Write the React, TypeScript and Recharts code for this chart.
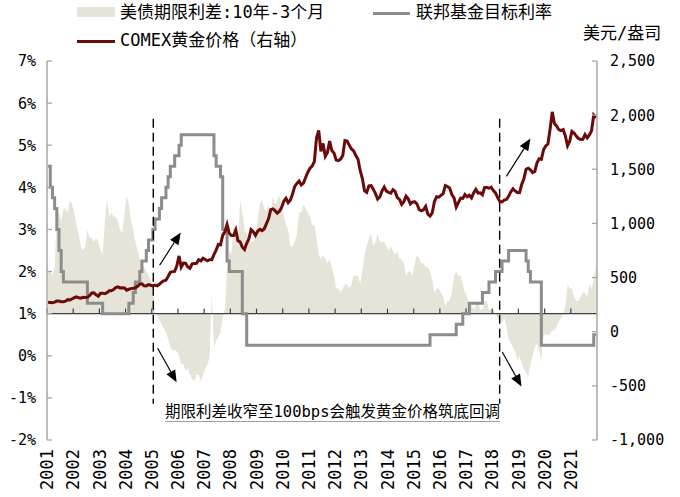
import React from 'react';
import { ComposedChart, Area, Line, XAxis, YAxis, ReferenceLine } from 'recharts';

// x = months since May 2001 (monthly observations, plotted mid-month)
const yearLabels = ['2001','2002','2003','2004','2005','2006','2007','2008','2009','2010','2011','2012','2013','2014','2015','2016','2017','2018','2019','2020','2021'];
const yearTicks = [0,12,24,36,48,60,72,84,96,108,120,132,144,156,168,180,192,204,216,228,240];
const leftTicks = [-2,-1,0,1,2,3,4,5,6,7];
const rightTicks = [-1000,-500,0,500,1000,1500,2000,2500];

// 美债期限利差:10年-3个月 (%)
const spread = [
  2.0, 2.0, 1.9, 2.1, 3.3, 3.4, 3.2, 3.5,
  3.5, 3.4, 3.7, 3.6, 3.4, 3.1, 2.9, 2.6, 2.5, 2.6, 3.0, 2.8,
  2.8, 2.7, 2.8, 2.7, 2.5, 2.4, 3.2, 3.7, 3.3, 3.4, 3.3, 3.3,
  3.2, 3.0, 2.9, 3.4, 3.8, 3.6, 3.2, 3.0, 2.7, 2.5, 2.3, 2.1,
  2.1, 2.0, 1.9, 1.8, 1.6, 1.05, 0.95, 0.85, 0.75, 0.65, 0.55, 0.4,
  0.2, 0.12, 0.15, 0.1, 0.0, -0.2, -0.2, -0.35, -0.3, -0.45, -0.55, -0.6,
  -0.45, -0.45, -0.6, -0.45, -0.3, -0.2, -0.05, 1.5, 0.2, 0.35, 0.45, 0.55,
  0.9, 1.1, 2.0, 2.5, 2.4, 3.2, 2.9, 2.6, 3.7, 3.4, 3.0, 2.9,
  2.8, 2.7, 2.7, 2.9, 3.2, 3.6, 3.7, 3.5, 3.4, 3.6, 3.3, 3.8,
  3.6, 3.7, 3.8, 3.6, 3.3, 3.1, 3.0, 2.6, 2.6, 2.7, 2.9, 3.4,
  3.4, 3.6, 3.5, 3.4, 3.3, 3.1, 3.1, 2.8, 2.4, 2.3, 2.4, 2.3,
  2.2, 2.3, 2.1, 1.9, 1.6, 1.6, 1.5, 1.6, 1.7, 1.7, 1.6, 1.7,
  1.9, 1.9, 1.9, 1.7, 2.0, 2.4, 2.6, 2.8, 2.9, 2.6, 2.7, 2.9,
  2.7, 2.7, 2.7, 2.6, 2.5, 2.6, 2.5, 2.4, 2.5, 2.3, 2.3, 2.2,
  1.9, 2.0, 2.0, 1.9, 2.2, 2.4, 2.3, 2.2, 2.2, 2.1, 2.1, 2.0,
  1.8, 1.5, 1.6, 1.6, 1.5, 1.4, 1.2, 1.3, 1.3, 1.5, 1.9, 2.0,
  1.9, 1.9, 1.7, 1.5, 1.4, 1.2, 1.2, 1.1, 1.2, 1.3, 1.1, 1.1,
  1.3, 1.3, 1.1, 1.1, 1.1, 1.0, 0.9, 0.8, 0.8, 0.9, 0.7, 0.4,
  0.3, 0.2, 0.1, -0.1, 0.0, -0.2, -0.3, -0.4, -0.5, -0.2, 0.0, 0.2,
  0.3, 0.1, -0.1, 0.5, 0.5, 0.5, 0.5, 0.6, 0.6, 0.7, 0.8, 0.9,
  1.0, 1.2, 1.7, 1.6, 1.6, 1.4, 1.3, 1.3, 1.4, 1.5, 1.5, 1.4,
  1.7, 1.6, 1.8, 2.2,
];

// 联邦基金目标利率 (%)
const fedRate = [
  4.5, 4.0, 3.75, 3.5, 3.0, 2.5, 2.0, 1.75,
  1.75, 1.75, 1.75, 1.75, 1.75, 1.75, 1.75, 1.75, 1.75, 1.75, 1.25, 1.25,
  1.25, 1.25, 1.25, 1.25, 1.25, 1.0, 1.0, 1.0, 1.0, 1.0, 1.0, 1.0,
  1.0, 1.0, 1.0, 1.0, 1.0, 1.25, 1.25, 1.5, 1.75, 1.75, 2.0, 2.25,
  2.25, 2.5, 2.75, 2.75, 3.0, 3.25, 3.25, 3.5, 3.75, 3.75, 4.0, 4.25,
  4.5, 4.5, 4.75, 4.75, 5.0, 5.25, 5.25, 5.25, 5.25, 5.25, 5.25, 5.25,
  5.25, 5.25, 5.25, 5.25, 5.25, 5.25, 5.25, 5.25, 4.75, 4.5, 4.5, 4.25,
  3.0, 3.0, 2.25, 2.0, 2.0, 2.0, 2.0, 2.0, 2.0, 1.0, 1.0, 0.25,
  0.25, 0.25, 0.25, 0.25, 0.25, 0.25, 0.25, 0.25, 0.25, 0.25, 0.25, 0.25,
  0.25, 0.25, 0.25, 0.25, 0.25, 0.25, 0.25, 0.25, 0.25, 0.25, 0.25, 0.25,
  0.25, 0.25, 0.25, 0.25, 0.25, 0.25, 0.25, 0.25, 0.25, 0.25, 0.25, 0.25,
  0.25, 0.25, 0.25, 0.25, 0.25, 0.25, 0.25, 0.25, 0.25, 0.25, 0.25, 0.25,
  0.25, 0.25, 0.25, 0.25, 0.25, 0.25, 0.25, 0.25, 0.25, 0.25, 0.25, 0.25,
  0.25, 0.25, 0.25, 0.25, 0.25, 0.25, 0.25, 0.25, 0.25, 0.25, 0.25, 0.25,
  0.25, 0.25, 0.25, 0.25, 0.25, 0.25, 0.25, 0.25, 0.25, 0.25, 0.25, 0.5,
  0.5, 0.5, 0.5, 0.5, 0.5, 0.5, 0.5, 0.5, 0.5, 0.5, 0.5, 0.75,
  0.75, 0.75, 1.0, 1.0, 1.0, 1.25, 1.25, 1.25, 1.25, 1.25, 1.25, 1.5,
  1.5, 1.5, 1.75, 1.75, 1.75, 2.0, 2.0, 2.0, 2.25, 2.25, 2.25, 2.5,
  2.5, 2.5, 2.5, 2.5, 2.5, 2.5, 2.5, 2.25, 2.0, 1.75, 1.75, 1.75,
  1.75, 1.75, 0.25, 0.25, 0.25, 0.25, 0.25, 0.25, 0.25, 0.25, 0.25, 0.25,
  0.25, 0.25, 0.25, 0.25, 0.25, 0.25, 0.25, 0.25, 0.25, 0.25, 0.25, 0.25,
  0.25, 0.25, 0.5, 0.5,
];

// COMEX黄金价格 (美元/盎司)
const gold = [
  272, 270, 268, 273, 283, 283, 276, 276,
  282, 296, 294, 302, 314, 321, 313, 310, 319, 317, 319, 333,
  357, 359, 340, 328, 355, 356, 351, 360, 379, 379, 389, 407,
  414, 405, 406, 404, 384, 392, 398, 401, 406, 420, 439, 442,
  424, 423, 434, 429, 422, 430, 424, 438, 457, 470, 476, 510,
  549, 555, 557, 610, 700, 596, 633, 632, 598, 585, 627, 629,
  631, 665, 655, 679, 667, 655, 665, 665, 712, 754, 806, 803,
  889, 922, 990, 909, 888, 889, 939, 839, 829, 780, 760, 816,
  858, 943, 924, 890, 928, 946, 934, 949, 996, 1043, 1127, 1134,
  1118, 1095, 1113, 1148, 1205, 1232, 1193, 1215, 1271, 1342, 1370, 1391,
  1356, 1372, 1424, 1473, 1510, 1529, 1572, 1790, 1860, 1665, 1738, 1620,
  1656, 1760, 1673, 1650, 1585, 1580, 1594, 1626, 1765, 1760, 1721, 1688,
  1670, 1627, 1593, 1487, 1414, 1300, 1286, 1347, 1349, 1316, 1275, 1225,
  1244, 1300, 1336, 1299, 1287, 1279, 1311, 1296, 1239, 1222, 1176, 1201,
  1251, 1227, 1179, 1198, 1199, 1181, 1128, 1117, 1125, 1157, 1086, 1068,
  1097, 1200, 1246, 1242, 1259, 1276, 1350, 1341, 1326, 1266, 1236, 1151,
  1192, 1234, 1231, 1267, 1246, 1260, 1236, 1283, 1314, 1280, 1283, 1265,
  1331, 1331, 1325, 1335, 1303, 1282, 1238, 1202, 1199, 1215, 1221, 1250,
  1291, 1320, 1300, 1285, 1284, 1359, 1413, 1500, 1510, 1495, 1470, 1480,
  1560, 1598, 1592, 1680, 1716, 1733, 1870, 2030, 1922, 1900, 1866, 1858,
  1867, 1808, 1718, 1760, 1850, 1834, 1807, 1785, 1776, 1777, 1820, 1790,
  1817, 1856, 2000, 1975,
];

// annotation guides (months since May 2001, left-axis %)
const markerMonths = [48.7, 207.4];
const markerRange = [-1.14, 5.63];
const arrows = [
  { from: [51.6, 2.15], to: [61.3, 2.93] },
  { from: [50.7, 0.18], to: [59.4, -0.63] },
  { from: [210.5, 4.26], to: [221.5, 5.16] },
  { from: [208.6, 0.09], to: [217.4, -0.73] },
];

const data = spread.map((v, i) => ({ m: i + 0.5, spread: v, fed: fedRate[i], gold: gold[i] }));

const MONO = '"DejaVu Sans Mono", "Noto Sans CJK SC", sans-serif';
const AXIS = '#A6A6A6';
const AREA = '#E6E4D8';
const FED = '#8C8C8C';
const GOLD = '#6B0A0A';

const LeftTick = (p: any) => {
  const { x, y, payload } = p;
  return (
    <g>
      <line x1={x} y1={y} x2={x + 5} y2={y} stroke={AXIS} strokeWidth={1.3} />
      <text x={x - 11} y={y} dy="0.36em" textAnchor="end" fontFamily={MONO} fontSize={15} fill="#000">
        {`${payload.value}%`}
      </text>
    </g>
  );
};

const RightTick = (p: any) => {
  const { x, y, payload } = p;
  return (
    <g>
      <line x1={x - 5} y1={y} x2={x} y2={y} stroke={AXIS} strokeWidth={1.3} />
      <text x={x + 13} y={y} dy="0.36em" textAnchor="start" fontFamily={MONO} fontSize={15} fill="#000">
        {Number(payload.value).toLocaleString('en-US')}
      </text>
    </g>
  );
};

const YearTick = (p: any) => {
  const { x, y, payload } = p;
  const idx = yearTicks.indexOf(payload.value);
  return (
    <text transform={`translate(${x},${y + 9}) rotate(-90)`} textAnchor="end" dy="0.36em" fontFamily={MONO} fontSize={17} fill="#000">
      {yearLabels[idx]}
    </text>
  );
};

const ArrowShape = (p: any) => {
  const { x1, y1, x2, y2 } = p;
  const ang = Math.atan2(y2 - y1, x2 - x1);
  const L = 12;
  const W = 5;
  const bx = x2 - L * Math.cos(ang);
  const by = y2 - L * Math.sin(ang);
  const px = -Math.sin(ang) * W;
  const py = Math.cos(ang) * W;
  return (
    <g>
      <line x1={x1} y1={y1} x2={bx} y2={by} stroke="#000" strokeWidth={1.2} />
      <polygon points={`${x2},${y2} ${bx + px},${by + py} ${bx - px},${by - py}`} fill="#000" />
    </g>
  );
};

const CJK = '"DejaVu Sans Mono", "Noto Sans CJK SC", sans-serif';

export default function App() {
  return (
    <div style={{ position: 'absolute', left: 0, top: 0, width: 680, height: 497, background: '#fff', overflow: 'hidden' }}>
      <ComposedChart width={680} height={497} data={data} margin={{ top: 61, right: 23, bottom: 0, left: 7 }}>
        <XAxis
          dataKey="m"
          type="number"
          domain={[0, 252]}
          ticks={yearTicks}
          interval={0}
          axisLine={false}
          tickLine={false}
          tickSize={0}
          tickMargin={0}
          height={57}
          tick={<YearTick />}
        />
        <YAxis
          yAxisId="left"
          type="number"
          domain={[-2, 7]}
          ticks={leftTicks}
          interval={0}
          width={40}
          axisLine={{ stroke: AXIS, strokeWidth: 1.5 }}
          tickLine={false}
          tickSize={0}
          tickMargin={0}
          tick={<LeftTick />}
        />
        <YAxis
          yAxisId="right"
          orientation="right"
          type="number"
          domain={[-1000, 2500]}
          ticks={rightTicks}
          interval={0}
          width={60}
          axisLine={{ stroke: AXIS, strokeWidth: 1.5 }}
          tickLine={false}
          tickSize={0}
          tickMargin={0}
          tick={<RightTick />}
        />
        <Area
          yAxisId="left"
          dataKey="spread"
          type="linear"
          baseValue={1}
          fill={AREA}
          fillOpacity={1}
          stroke="none"
          isAnimationActive={false}
        />
        <ReferenceLine yAxisId="left" y={1} stroke="#404040" strokeWidth={1.2} />
        {yearTicks.map((t) => (
          <ReferenceLine
            key={`t${t}`}
            yAxisId="left"
            segment={[{ x: t, y: 1 }, { x: t, y: 1.12 }]}
            stroke="#404040"
            strokeWidth={1.2}
          />
        ))}
        <Line
          yAxisId="left"
          dataKey="fed"
          type="stepAfter"
          stroke={FED}
          strokeWidth={3}
          dot={false}
          isAnimationActive={false}
        />
        <Line
          yAxisId="right"
          dataKey="gold"
          type="linear"
          stroke={GOLD}
          strokeWidth={3}
          dot={false}
          isAnimationActive={false}
        />
        {markerMonths.map((mm) => (
          <ReferenceLine
            key={`d${mm}`}
            yAxisId="left"
            segment={[{ x: mm, y: markerRange[1] }, { x: mm, y: markerRange[0] }]}
            stroke="#000"
            strokeWidth={1.4}
            strokeDasharray="9 5"
          />
        ))}
        {arrows.map((a, i) => (
          <ReferenceLine
            key={`a${i}`}
            yAxisId="left"
            segment={[{ x: a.from[0], y: a.from[1] }, { x: a.to[0], y: a.to[1] }]}
            shape={ArrowShape}
          />
        ))}
      </ComposedChart>

      {/* legend */}
      <div style={{ position: 'absolute', left: 77, top: 7, width: 38, height: 10, background: AREA }} />
      <div style={{ position: 'absolute', left: 120, top: 4, fontFamily: CJK, fontSize: 17, lineHeight: '17px', whiteSpace: 'nowrap', color: '#000' }}>
        美债期限利差:10年-3个月
      </div>
      <div style={{ position: 'absolute', left: 373, top: 12, width: 37, height: 3, background: FED }} />
      <div style={{ position: 'absolute', left: 416, top: 4, fontFamily: CJK, fontSize: 17, lineHeight: '17px', whiteSpace: 'nowrap', color: '#000' }}>
        联邦基金目标利率
      </div>
      <div style={{ position: 'absolute', left: 77, top: 40, width: 38, height: 3, background: GOLD }} />
      <div style={{ position: 'absolute', left: 120, top: 32, fontFamily: CJK, fontSize: 17, lineHeight: '17px', whiteSpace: 'nowrap', color: '#000' }}>
        COMEX黄金价格（右轴）
      </div>
      <div style={{ position: 'absolute', left: 583, top: 25, fontFamily: CJK, fontSize: 17, lineHeight: '17px', whiteSpace: 'nowrap', color: '#000' }}>
        美元/盎司
      </div>

      {/* annotation */}
      <div style={{ position: 'absolute', left: 165, top: 404, fontFamily: CJK, fontSize: 15.5, lineHeight: '16px', whiteSpace: 'nowrap', color: '#000', borderBottom: '1.5px solid #A0A0A0', paddingBottom: 1 }}>
        期限利差收窄至100bps会触发黄金价格筑底回调
      </div>
    </div>
  );
}
